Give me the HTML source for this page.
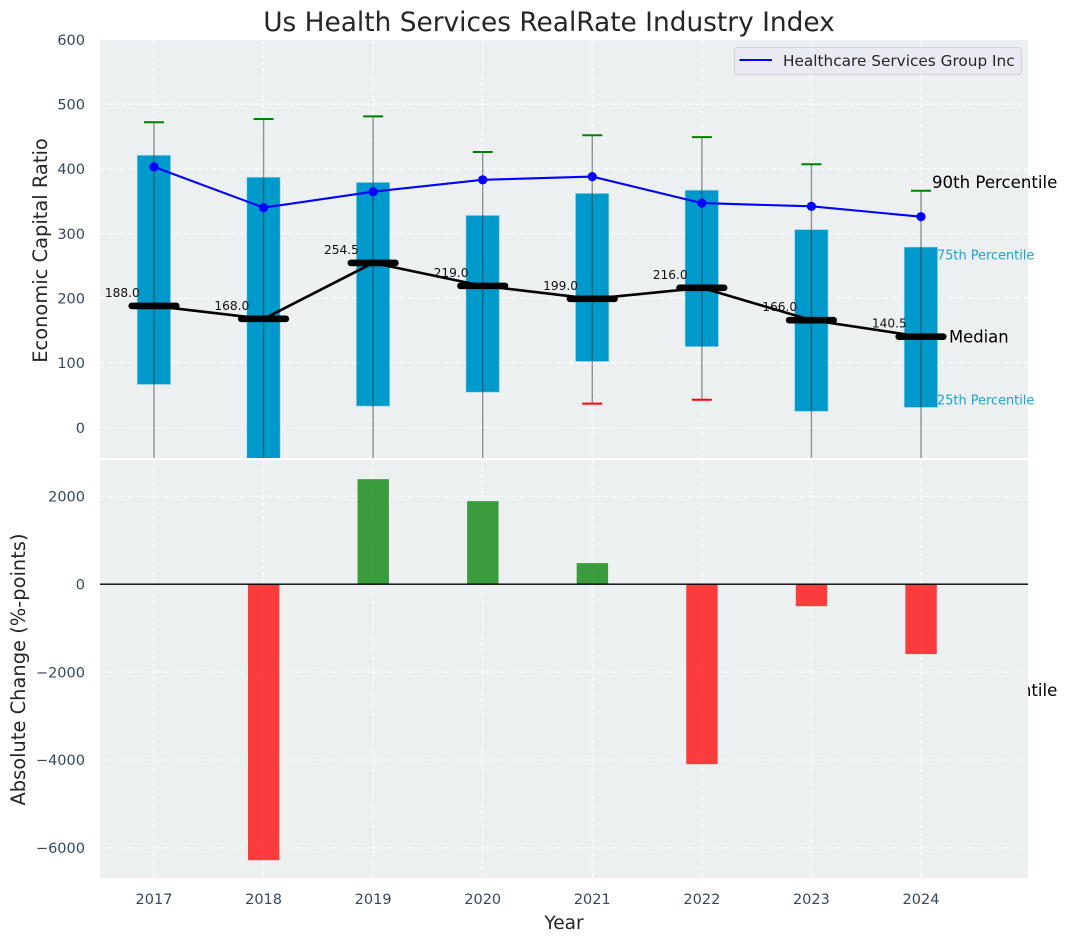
<!DOCTYPE html>
<html lang="en">
<head>
<meta charset="utf-8">
<title>Us Health Services RealRate Industry Index</title>
<style>
html,body{margin:0;padding:0;background:#fff;}
svg{display:block;font-family:"DejaVu Sans","Liberation Sans",sans-serif;}
</style>
</head>
<body>
<svg id="chart" width="1067" height="942" viewBox="0 0 1067 942" xmlns="http://www.w3.org/2000/svg">
<defs>
<clipPath id="clip-top"><rect x="100" y="40" width="928" height="418"/></clipPath>
<clipPath id="clip-bottom"><rect x="100" y="460" width="928" height="418"/></clipPath>
</defs>
</svg>
<script>
const years = [2017, 2018, 2019, 2020, 2021, 2022, 2023, 2024];
const p90 = [472, 477, 481, 426, 452, 449, 407, 366];
const p75 = [421, 387, 379, 328, 362, 367, 306, 279];
const medians = [188, 168, 254.5, 219, 199, 216, 166, 140.5];
const p25 = [66.5, -60, 33, 54.5, 102, 125, 25, 31];
const p10 = [-90, -120, -100, -80, 37, 43, -70, -60];
const companyValues = [403, 340, 364.6, 383, 388, 347, 342, 326];
const absoluteChange = [0, -6280, 2390, 1890, 480, -4095, -500, -1590];
const topTicks = [0, 100, 200, 300, 400, 500, 600];
const bottomTicks = [-6000, -4000, -2000, 0, 2000];

const svg = document.getElementById('chart');
const NS = 'http://www.w3.org/2000/svg';
const xScale = v => 154 + (v - 2017) * 109.57;
const yTop = v => 427.5 - v * 0.6467;
const yBottom = v => 584.2 - v * 0.04395;

function make(tag, attrs, parent, text) {
  const el = document.createElementNS(NS, tag);
  for (const k in attrs) el.setAttribute(k, attrs[k]);
  if (text !== undefined) el.textContent = text;
  (parent || svg).appendChild(el);
  return el;
}
function fmt(v) { return String(v).replace('-', '\u2212'); }

let el;

el = make('text', {x: 549, y: 31, 'text-anchor': 'middle', 'font-size': 26.4, fill: '#262626'}, svg, 'Us Health Services RealRate Industry Index');



// Top axes
el = make('rect', {x: 100, y: 40, width: 928, height: 418, fill: '#ecf0f1'});



const gridTop = make('g', {stroke: '#fff', 'stroke-width': 1.1, 'stroke-dasharray': '4.5 2.5', opacity: 0.9, 'clip-path': 'url(#clip-top)'});


topTicks.forEach(t => {
  const g = make('line', {x1: 100, x2: 1028, y1: yTop(t), y2: yTop(t)}, gridTop);
  
  
});
years.forEach(y => {
  const g = make('line', {x1: xScale(y), x2: xScale(y), y1: 40, y2: 458}, gridTop);
  
  
});

const boxes = make('g', {'clip-path': 'url(#clip-top)'});


years.forEach((y, i) => {
  const top = yTop(p75[i]);
  const bottom = yTop(p25[i]);
  const b = make('rect', {x: xScale(y) - 16.8, y: top, width: 33.4, height: bottom - top, fill: '#0099cc', stroke: '#a9dcec', 'stroke-width': 0.8, 'stroke-opacity': 0.7}, boxes);
  
  
});

const whiskers = make('g', {'clip-path': 'url(#clip-top)'});


years.forEach((y, i) => {
  const x = xScale(y);
  const w = make('line', {x1: x, x2: x, y1: yTop(p90[i]), y2: yTop(p10[i]), stroke: '#2b2b2b', 'stroke-opacity': 0.5, 'stroke-width': 1.4}, whiskers);
  
  
  const hi = make('line', {x1: x - 10, x2: x + 10, y1: yTop(p90[i]), y2: yTop(p90[i]), stroke: '#008000', 'stroke-width': 2}, whiskers);
  
  
  const lo = make('line', {x1: x - 10, x2: x + 10, y1: yTop(p10[i]), y2: yTop(p10[i]), stroke: '#ff0000', 'stroke-width': 2}, whiskers);
  
  
});

el = make('polyline', {points: years.map((y, i) => xScale(y) + ',' + yTop(medians[i])).join(' '), fill: 'none', stroke: '#000', 'stroke-width': 2.6, 'clip-path': 'url(#clip-top)'});



years.forEach((y, i) => {
  const x = xScale(y);
  const m = make('line', {x1: x - 22.3, x2: x + 22.3, y1: yTop(medians[i]), y2: yTop(medians[i]), stroke: '#000', 'stroke-width': 6.6, 'stroke-linecap': 'round'});
  
  
  const label = make('text', {x: x - 31.7, y: yTop(medians[i]) - 9, 'text-anchor': 'middle', 'font-size': 12.2, fill: '#111'}, svg, medians[i].toFixed(1));
  
  
});

el = make('polyline', {points: years.map((y, i) => xScale(y) + ',' + yTop(companyValues[i])).join(' '), fill: 'none', stroke: '#0000ff', 'stroke-width': 2.1, 'clip-path': 'url(#clip-top)'});


years.forEach((y, i) => {
  const c = make('circle', {cx: xScale(y), cy: yTop(companyValues[i]), r: 4.6, fill: '#0000ff'});
  
  
});

// Percentile annotations
el = make('text', {x: 932, y: 188, 'font-size': 16.6, fill: '#000'}, svg, '90th Percentile');


el = make('text', {x: 937, y: 259.5, 'font-size': 12.9, fill: '#1ba3d0'}, svg, '75th Percentile');


el = make('text', {x: 949, y: 342.5, 'font-size': 16.4, fill: '#000'}, svg, 'Median');


el = make('text', {x: 937, y: 404.5, 'font-size': 12.9, fill: '#1ba3d0'}, svg, '25th Percentile');


el = make('text', {x: 932, y: 696, 'font-size': 16.6, fill: '#000'}, svg, '10th Percentile');



// Legend
const legend = make('g', {});


el = make('rect', {x: 734.5, y: 47.5, width: 287, height: 27, rx: 3, fill: '#eaeaf2', stroke: '#d2d2d6', 'stroke-width': 1}, legend);


el = make('line', {x1: 739.5, x2: 772, y1: 60, y2: 60, stroke: '#0000ff', 'stroke-width': 2.1}, legend);


el = make('text', {x: 783, y: 66, 'font-size': 15.3, fill: '#262626'}, legend, 'Healthcare Services Group Inc');



// Bottom axes
el = make('rect', {x: 100, y: 460, width: 928, height: 418, fill: '#ecf0f1'});



const gridBottom = make('g', {stroke: '#fff', 'stroke-width': 1.1, 'stroke-dasharray': '4.5 2.5', opacity: 0.9, 'clip-path': 'url(#clip-bottom)'});


bottomTicks.forEach(t => {
  const g = make('line', {x1: 100, x2: 1028, y1: yBottom(t), y2: yBottom(t)}, gridBottom);
  
  
});
years.forEach(y => {
  const g = make('line', {x1: xScale(y), x2: xScale(y), y1: 460, y2: 878}, gridBottom);
  
  
});

const bars = make('g', {'clip-path': 'url(#clip-bottom)'});


years.forEach((y, i) => {
  const v = absoluteChange[i];
  const y0 = yBottom(Math.max(v, 0));
  const y1 = yBottom(Math.min(v, 0));
  const b = make('rect', {x: xScale(y) - 15.6, y: y0, width: 31.4, height: y1 - y0, fill: v >= 0 ? '#008000' : '#ff0000', 'fill-opacity': 0.75}, bars);
  
  
});
el = make('line', {x1: 100, x2: 1028, y1: yBottom(0), y2: yBottom(0), stroke: '#000', 'stroke-width': 1.3});



// Tick labels
topTicks.forEach(t => {
  const l = make('text', {x: 85, y: yTop(t) + 5.4, 'text-anchor': 'end', 'font-size': 14.5, fill: '#34495e'}, svg, fmt(t));
  
  
});
bottomTicks.forEach(t => {
  const l = make('text', {x: 85, y: yBottom(t) + 5.2, 'text-anchor': 'end', 'font-size': 14.5, fill: '#34495e'}, svg, fmt(t));
  
  
});
years.forEach(y => {
  const l = make('text', {x: xScale(y), y: 904, 'text-anchor': 'middle', 'font-size': 14.5, fill: '#34495e'}, svg, String(y));
  
  
});

// Axis titles
el = make('text', {x: 564, y: 929, 'text-anchor': 'middle', 'font-size': 18.6, fill: '#262626'}, svg, 'Year');


el = make('text', {x: 0, y: 0, transform: 'translate(47 250.5) rotate(-90)', 'text-anchor': 'middle', 'font-size': 19.45, fill: '#262626'}, svg, 'Economic Capital Ratio');


el = make('text', {x: 0, y: 0, transform: 'translate(25 669.5) rotate(-90)', 'text-anchor': 'middle', 'font-size': 19.45, fill: '#262626'}, svg, 'Absolute Change (%-points)');


</script>
</body>
</html>
